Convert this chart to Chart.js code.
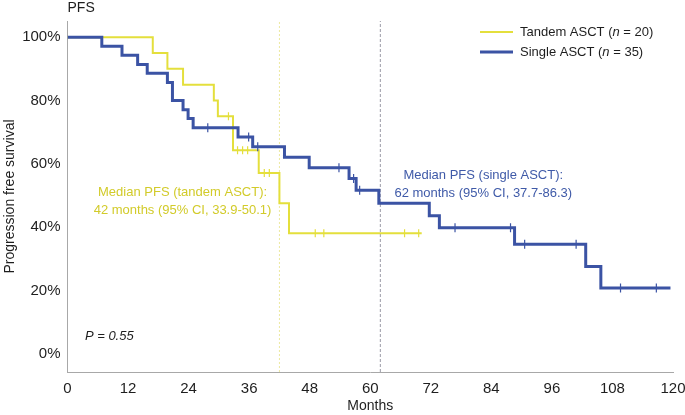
<!DOCTYPE html>
<html>
<head>
<meta charset="utf-8">
<script src="https://cdn.jsdelivr.net/npm/chart.js@4.4.1/dist/chart.umd.min.js"></script>
<style>
  html, body { margin: 0; padding: 0; background: #fff; }
</style>
</head>
<body>
<canvas id="pfsChart" width="685" height="415"></canvas>
<script>
// Kaplan-Meier steps (months, % progression free)
const singleMonths = [0, 6.8, 10.8, 13.9, 15.8, 19.8, 20.8, 22.9, 23.9, 24.9, 33.8, 36.7, 43.0, 47.9, 55.8, 57.2, 61.7, 71.7, 73.7, 88.6, 102.7, 105.7, 119.5];
const singleSurv   = [100, 97.1, 94.3, 91.4, 88.6, 85.7, 80.0, 77.1, 74.3, 71.4, 68.5, 65.4, 62.1, 58.8, 55.4, 51.7, 47.6, 43.6, 39.8, 34.6, 27.6, 20.8, 20.8];
const singleCensorMonths = [27.8, 35.9, 37.7, 53.8, 56.7, 57.9, 76.8, 87.8, 90.6, 100.8, 109.6, 116.7];
const singleCensorSurv   = [71.4, 68.5, 65.4, 58.8, 55.4, 51.7, 39.8, 39.8, 34.6, 34.6, 20.8, 20.8];

const tandemMonths = [0, 16.9, 19.8, 22.9, 29.0, 29.8, 32.8, 37.9, 42.0, 43.9, 70.2];
const tandemSurv   = [100, 95.0, 90.0, 85.0, 80.0, 75.0, 64.3, 57.1, 47.6, 38.1, 38.1];
const tandemCensorMonths = [31.9, 33.7, 34.7, 35.7, 39.0, 40.0, 49.1, 50.8, 66.8, 69.6];
const tandemCensorSurv   = [75.0, 64.3, 64.3, 64.3, 57.1, 57.1, 38.1, 38.1, 38.1, 38.1];

const medianTandem = 42;
const medianSingle = 62;
const yTicks = [0, 20, 40, 60, 80, 100];
const yMin = -5.7, yMax = 105.1;

const BLUE = '#3b53a4';
const YELLOW = '#e4df3c';
const FONT = "'Liberation Sans', Arial, sans-serif";

Chart.defaults.font.family = FONT;
Chart.defaults.color = '#1e1e1e';

function pts(xs, ys) {
  return xs.map((v, i) => ({ x: v, y: ys[i] }));
}

// annotations, legend and panel title
const notes = {
  id: 'notes',
  afterDraw(chart) {
    const { ctx, scales: { x, y }, chartArea } = chart;
    ctx.save();
    ctx.textBaseline = 'middle';

    ctx.fillStyle = '#1e1e1e';
    ctx.font = '14px ' + FONT;
    ctx.textAlign = 'left';
    ctx.fillText('PFS', chartArea.left, 8);

    // legend
    const rows = [
      { c: YELLOW, w: 2, a: 'Tandem ASCT (', b: ' = 20)', yy: 32 },
      { c: BLUE, w: 3, a: 'Single ASCT (', b: ' = 35)', yy: 52 }
    ];
    rows.forEach(r => {
      ctx.strokeStyle = r.c;
      ctx.lineWidth = r.w;
      ctx.beginPath();
      ctx.moveTo(480, r.yy);
      ctx.lineTo(513, r.yy);
      ctx.stroke();
      let tx = 520;
      ctx.fillStyle = '#1e1e1e';
      ctx.font = '13px ' + FONT;
      ctx.fillText(r.a, tx, r.yy);
      tx += ctx.measureText(r.a).width;
      ctx.font = 'italic 13px ' + FONT;
      ctx.fillText('n', tx, r.yy);
      tx += ctx.measureText('n').width;
      ctx.font = '13px ' + FONT;
      ctx.fillText(r.b, tx, r.yy);
    });

    // median notes
    ctx.textAlign = 'center';
    ctx.font = '13px ' + FONT;
    ctx.fillStyle = '#d2cb2a';
    ctx.fillText('Median PFS (tandem ASCT):', x.getPixelForValue(22.8), y.getPixelForValue(50.9));
    ctx.fillText('42 months (95% CI, 33.9-50.1)', x.getPixelForValue(22.8), y.getPixelForValue(45.2));
    ctx.fillStyle = '#3f5aa8';
    ctx.fillText('Median PFS (single ASCT):', x.getPixelForValue(82.4), y.getPixelForValue(56.2));
    ctx.fillText('62 months (95% CI, 37.7-86.3)', x.getPixelForValue(82.4), y.getPixelForValue(50.6));

    ctx.textAlign = 'left';
    ctx.fillStyle = '#1e1e1e';
    ctx.font = 'italic 13px ' + FONT;
    ctx.fillText('P = 0.55', x.getPixelForValue(3.45), y.getPixelForValue(5.5));
    ctx.restore();
  }
};

new Chart(document.getElementById('pfsChart'), {
  type: 'line',
  data: {
    datasets: [
      { label: 'Single ASCT', data: pts(singleMonths, singleSurv), stepped: true,
        borderColor: BLUE, borderWidth: 3, pointRadius: 0, fill: false },
      { label: 'Single censored', data: pts(singleCensorMonths, singleCensorSurv), showLine: false,
        pointStyle: 'line', rotation: 90, pointRadius: 4.5, borderColor: BLUE, pointBorderWidth: 1.2 },
      { label: 'Tandem ASCT', data: pts(tandemMonths, tandemSurv), stepped: true,
        borderColor: YELLOW, borderWidth: 2, pointRadius: 0, fill: false },
      { label: 'Tandem censored', data: pts(tandemCensorMonths, tandemCensorSurv), showLine: false,
        pointStyle: 'line', rotation: 90, pointRadius: 4, borderColor: YELLOW, pointBorderWidth: 1.2 },
      { label: 'median tandem', data: [{ x: medianTandem, y: yMin }, { x: medianTandem, y: yMax }],
        borderColor: '#ece9a0', borderWidth: 1, borderDash: [2, 2], pointRadius: 0 },
      { label: 'median single', data: [{ x: medianSingle, y: yMin }, { x: medianSingle, y: yMax }],
        borderColor: '#9a9aa6', borderWidth: 1, borderDash: [3, 2], pointRadius: 0 }
    ]
  },
  options: {
    responsive: false,
    animation: false,
    layout: { padding: { top: 21, right: 0, left: 0, bottom: 0 } },
    plugins: { legend: { display: false }, tooltip: { enabled: false } },
    scales: {
      x: {
        type: 'linear', min: 0, max: 120,
        grid: { display: false, drawTicks: false },
        border: { color: '#a8a8a8', width: 1 },
        ticks: { stepSize: 12, padding: 8, font: { size: 15 }, maxRotation: 0 },
        title: { display: true, text: 'Months', font: { size: 14 }, padding: 0 },
        afterFit(scale) { scale.height = 43; scale.paddingRight = 12; }
      },
      y: {
        type: 'linear', min: yMin, max: yMax,
        grid: { display: false, drawTicks: false },
        border: { color: '#a8a8a8', width: 1 },
        afterBuildTicks(scale) { scale.ticks = yTicks.map(v => ({ value: v })); },
        ticks: { padding: 7, font: { size: 15 }, callback: v => v + '%' },
        title: { display: true, text: 'Progression free survival', font: { size: 14 }, padding: 2 },
        afterFit(scale) { scale.width = 67.5; }
      }
    }
  },
  plugins: [notes]
});
</script>
</body>
</html>
